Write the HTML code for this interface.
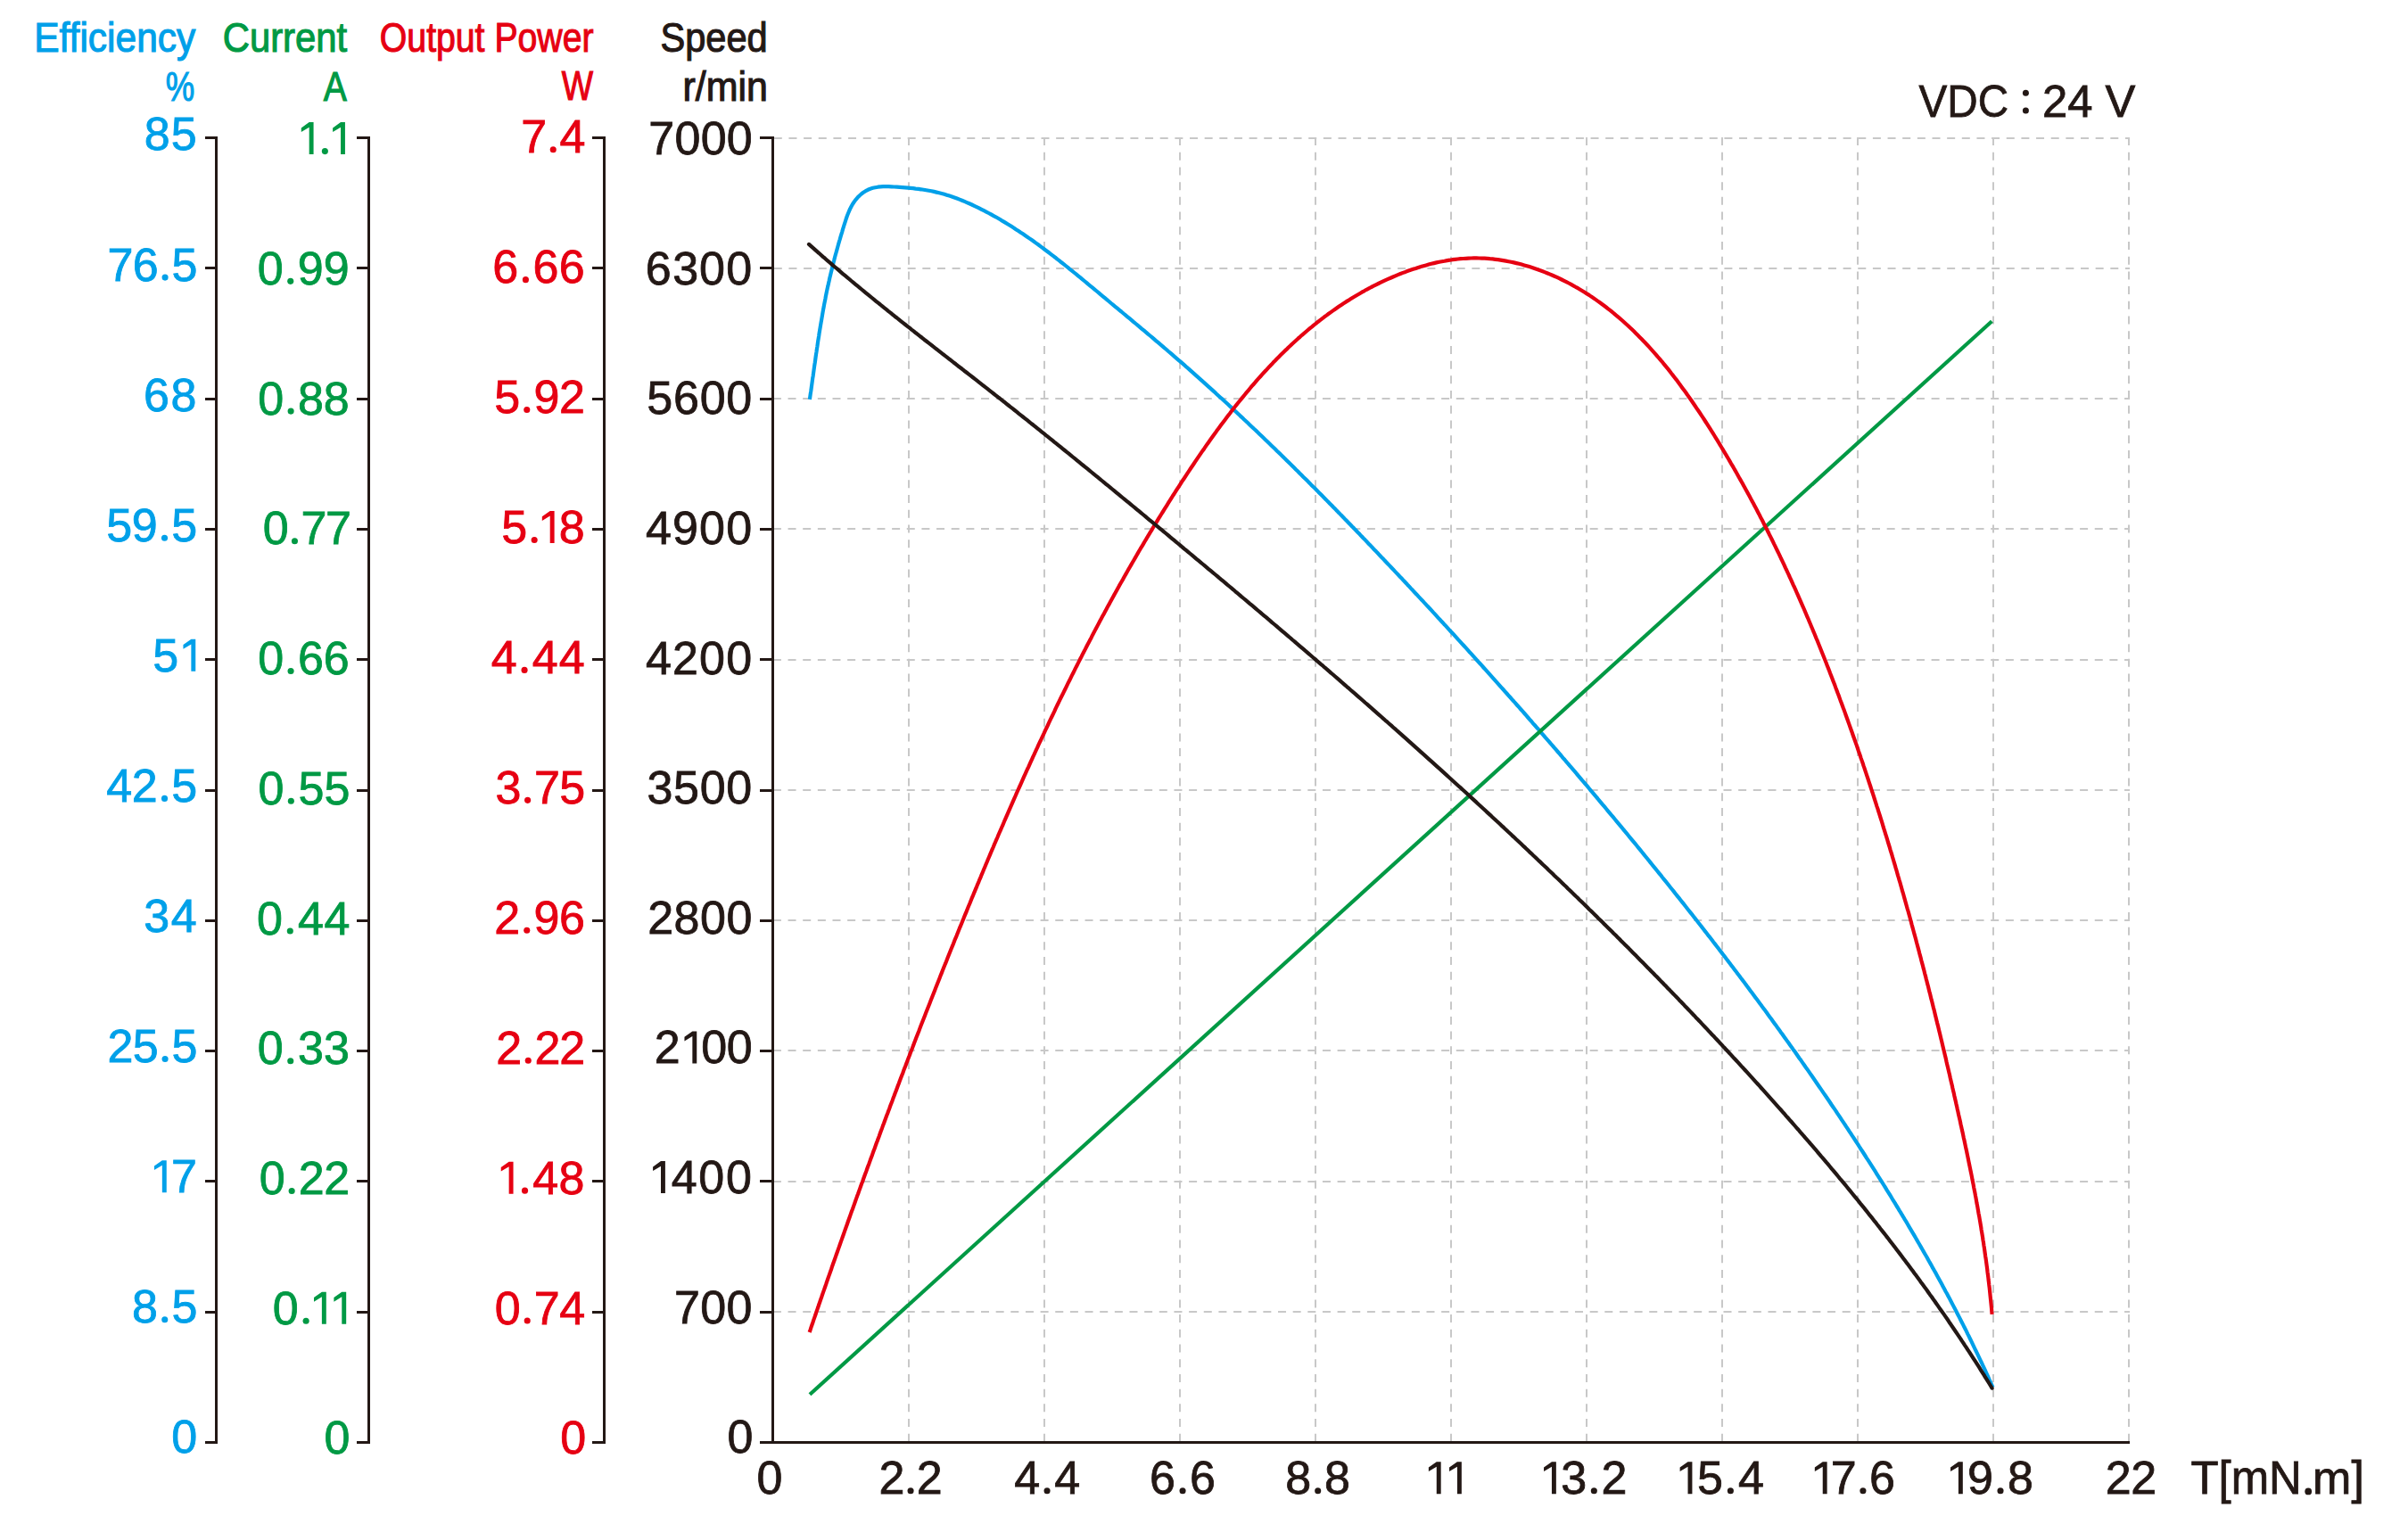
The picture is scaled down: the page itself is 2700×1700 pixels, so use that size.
<!DOCTYPE html>
<html><head><meta charset="utf-8"><style>
html,body{margin:0;padding:0;background:#fff;width:2700px;height:1700px;overflow:hidden}
svg{display:block}
text{font-family:"Liberation Sans",sans-serif}
</style></head><body>
<svg width="2700" height="1700" viewBox="0 0 2700 1700">
<rect width="2700" height="1700" fill="#fff"/>
<g stroke="#c8c8c8" stroke-width="2" fill="none"><line x1="867.8" y1="155.00" x2="2388" y2="155.00" stroke-dasharray="9 7.65"/><line x1="867.8" y1="301.00" x2="2388" y2="301.00" stroke-dasharray="9 7.65"/><line x1="866.9" y1="447.00" x2="2388" y2="447.00" stroke-dasharray="9 7.65"/><line x1="866.9" y1="593.00" x2="2388" y2="593.00" stroke-dasharray="9 7.65"/><line x1="866.9" y1="740.00" x2="2388" y2="740.00" stroke-dasharray="9 7.65"/><line x1="866.9" y1="886.00" x2="2388" y2="886.00" stroke-dasharray="9 7.65"/><line x1="866.9" y1="1032.00" x2="2388" y2="1032.00" stroke-dasharray="9 7.65"/><line x1="866.9" y1="1178.00" x2="2388" y2="1178.00" stroke-dasharray="9 7.65"/><line x1="866.9" y1="1325.00" x2="2388" y2="1325.00" stroke-dasharray="9 7.65"/><line x1="866.9" y1="1471.00" x2="2388" y2="1471.00" stroke-dasharray="9 7.65"/><line x1="1019.00" y1="154.0" x2="1019.00" y2="1616" stroke-dasharray="9 7.71"/><line x1="1171.00" y1="154.0" x2="1171.00" y2="1616" stroke-dasharray="9 7.71"/><line x1="1323.00" y1="154.0" x2="1323.00" y2="1616" stroke-dasharray="9 7.71"/><line x1="1475.00" y1="154.0" x2="1475.00" y2="1616" stroke-dasharray="9 7.71"/><line x1="1627.00" y1="154.0" x2="1627.00" y2="1616" stroke-dasharray="9 7.71"/><line x1="1779.00" y1="154.0" x2="1779.00" y2="1616" stroke-dasharray="9 7.71"/><line x1="1931.00" y1="154.0" x2="1931.00" y2="1616" stroke-dasharray="9 7.71"/><line x1="2083.00" y1="154.0" x2="2083.00" y2="1616" stroke-dasharray="9 7.71"/><line x1="2235.00" y1="154.0" x2="2235.00" y2="1616" stroke-dasharray="9 7.71"/><line x1="2387.00" y1="154.0" x2="2387.00" y2="1616" stroke-dasharray="9 7.71"/></g>
<g stroke="#231815" stroke-width="3" fill="none"><line x1="242.5" y1="153.0" x2="242.5" y2="1619.0"/><line x1="230.0" y1="154.50" x2="244.0" y2="154.50"/><line x1="230.0" y1="300.50" x2="244.0" y2="300.50"/><line x1="230.0" y1="447.50" x2="244.0" y2="447.50"/><line x1="230.0" y1="593.50" x2="244.0" y2="593.50"/><line x1="230.0" y1="739.50" x2="244.0" y2="739.50"/><line x1="230.0" y1="886.50" x2="244.0" y2="886.50"/><line x1="230.0" y1="1032.50" x2="244.0" y2="1032.50"/><line x1="230.0" y1="1178.50" x2="244.0" y2="1178.50"/><line x1="230.0" y1="1324.50" x2="244.0" y2="1324.50"/><line x1="230.0" y1="1471.50" x2="244.0" y2="1471.50"/><line x1="230.0" y1="1617.50" x2="244.0" y2="1617.50"/><line x1="413.5" y1="153.0" x2="413.5" y2="1619.0"/><line x1="400.0" y1="154.50" x2="415.0" y2="154.50"/><line x1="400.0" y1="300.50" x2="415.0" y2="300.50"/><line x1="400.0" y1="447.50" x2="415.0" y2="447.50"/><line x1="400.0" y1="593.50" x2="415.0" y2="593.50"/><line x1="400.0" y1="739.50" x2="415.0" y2="739.50"/><line x1="400.0" y1="886.50" x2="415.0" y2="886.50"/><line x1="400.0" y1="1032.50" x2="415.0" y2="1032.50"/><line x1="400.0" y1="1178.50" x2="415.0" y2="1178.50"/><line x1="400.0" y1="1324.50" x2="415.0" y2="1324.50"/><line x1="400.0" y1="1471.50" x2="415.0" y2="1471.50"/><line x1="400.0" y1="1617.50" x2="415.0" y2="1617.50"/><line x1="677.5" y1="153.0" x2="677.5" y2="1619.0"/><line x1="664.0" y1="154.50" x2="679.0" y2="154.50"/><line x1="664.0" y1="300.50" x2="679.0" y2="300.50"/><line x1="664.0" y1="447.50" x2="679.0" y2="447.50"/><line x1="664.0" y1="593.50" x2="679.0" y2="593.50"/><line x1="664.0" y1="739.50" x2="679.0" y2="739.50"/><line x1="664.0" y1="886.50" x2="679.0" y2="886.50"/><line x1="664.0" y1="1032.50" x2="679.0" y2="1032.50"/><line x1="664.0" y1="1178.50" x2="679.0" y2="1178.50"/><line x1="664.0" y1="1324.50" x2="679.0" y2="1324.50"/><line x1="664.0" y1="1471.50" x2="679.0" y2="1471.50"/><line x1="664.0" y1="1617.50" x2="679.0" y2="1617.50"/><line x1="866.5" y1="153.0" x2="866.5" y2="1619.0"/><line x1="852.0" y1="154.50" x2="868.0" y2="154.50"/><line x1="852.0" y1="300.50" x2="868.0" y2="300.50"/><line x1="852.0" y1="447.50" x2="868.0" y2="447.50"/><line x1="852.0" y1="593.50" x2="868.0" y2="593.50"/><line x1="852.0" y1="739.50" x2="868.0" y2="739.50"/><line x1="852.0" y1="886.50" x2="868.0" y2="886.50"/><line x1="852.0" y1="1032.50" x2="868.0" y2="1032.50"/><line x1="852.0" y1="1178.50" x2="868.0" y2="1178.50"/><line x1="852.0" y1="1324.50" x2="868.0" y2="1324.50"/><line x1="852.0" y1="1471.50" x2="868.0" y2="1471.50"/><line x1="852.0" y1="1617.50" x2="868.0" y2="1617.50"/><line x1="866.5" y1="1617.5" x2="2388" y2="1617.5"/></g>
<path d="M907.9,447.9 908.3,445.0 908.7,442.0 909.2,439.0 909.6,436.1 910.0,433.1 910.4,430.2 910.8,427.2 911.2,424.2 911.7,421.3 912.1,418.3 912.5,415.3 912.9,412.3 913.3,409.4 913.8,406.4 914.2,403.4 914.6,400.4 915.0,397.5 915.5,394.5 915.9,391.5 916.4,388.5 916.8,385.5 917.2,382.6 917.7,379.6 918.2,376.6 918.6,373.6 919.1,370.7 919.6,367.7 920.1,364.7 920.6,361.7 921.1,358.8 921.6,355.8 922.1,352.9 922.6,349.9 923.1,347.0 923.7,344.0 924.2,341.1 924.8,338.1 925.4,335.2 925.9,332.2 926.5,329.3 927.1,326.4 927.7,323.5 928.4,320.6 929.0,317.7 929.7,314.7 930.3,311.8 931.0,309.0 931.7,306.1 932.4,303.2 933.1,300.3 933.8,297.4 934.5,294.5 935.3,291.6 936.0,288.7 936.8,285.8 937.6,283.0 938.4,280.1 939.2,277.2 940.0,274.3 940.8,271.4 941.7,268.5 942.5,265.6 943.4,262.7 944.3,259.8 945.1,256.9 946.0,254.0 946.9,251.1 947.9,248.1 948.8,245.2 949.8,242.3 950.9,239.5 952.1,236.7 953.3,233.9 954.7,231.3 956.1,228.7 957.8,226.2 959.6,223.8 961.5,221.6 963.6,219.5 965.8,217.5 968.1,215.8 970.6,214.2 973.2,212.8 975.8,211.7 978.6,210.8 981.4,210.2 984.3,209.7 987.3,209.4 990.3,209.2 993.3,209.2 996.4,209.2 999.5,209.3 1002.6,209.5 1005.6,209.7 1008.7,209.9 1011.7,210.1 1014.8,210.3 1017.8,210.6 1020.8,210.9 1023.8,211.2 1026.7,211.6 1029.7,211.9 1032.6,212.3 1035.6,212.8 1038.5,213.3 1041.4,213.8 1044.4,214.3 1047.3,214.9 1050.1,215.6 1053.0,216.3 1055.9,217.0 1058.8,217.8 1061.6,218.7 1064.5,219.6 1067.3,220.5 1070.1,221.5 1073.0,222.5 1075.8,223.6 1078.6,224.7 1081.4,225.9 1084.1,227.1 1086.9,228.3 1089.7,229.5 1092.4,230.8 1095.1,232.1 1097.8,233.4 1100.5,234.8 1103.2,236.2 1105.9,237.6 1108.6,239.0 1111.2,240.4 1113.8,241.9 1116.5,243.3 1119.1,244.8 1121.7,246.3 1124.2,247.9 1126.8,249.4 1129.4,251.0 1131.9,252.5 1134.4,254.1 1137.0,255.7 1139.5,257.4 1142.0,259.0 1144.5,260.7 1147.0,262.3 1149.4,264.0 1151.9,265.7 1154.3,267.4 1156.8,269.1 1159.2,270.8 1161.7,272.6 1164.1,274.3 1166.5,276.1 1168.9,277.9 1171.3,279.7 1173.7,281.5 1176.1,283.3 1178.4,285.1 1180.8,286.9 1183.2,288.7 1185.5,290.6 1187.9,292.4 1190.2,294.3 1192.6,296.1 1194.9,298.0 1197.3,299.9 1199.6,301.8 1201.9,303.6 1204.2,305.5 1206.6,307.4 1208.9,309.3 1211.2,311.2 1213.5,313.1 1215.8,315.0 1218.1,316.9 1220.4,318.9 1222.8,320.8 1225.1,322.7 1227.4,324.6 1229.7,326.5 1232.0,328.4 1234.3,330.4 1236.6,332.3 1238.9,334.2 1241.2,336.1 1243.5,338.0 1245.8,340.0 1248.1,341.9 1250.4,343.8 1252.7,345.7 1255.0,347.6 1257.4,349.5 1259.7,351.5 1262.0,353.4 1264.3,355.3 1266.6,357.2 1268.9,359.1 1271.2,361.1 1273.5,363.0 1275.8,364.9 1278.1,366.8 1280.4,368.8 1282.7,370.7 1285.0,372.6 1287.3,374.6 1289.6,376.5 1291.9,378.4 1294.2,380.4 1296.4,382.3 1298.7,384.2 1301.0,386.2 1303.3,388.1 1305.6,390.1 1307.9,392.0 1310.1,394.0 1312.4,395.9 1314.7,397.9 1316.9,399.8 1319.2,401.8 1321.5,403.8 1323.7,405.7 1326.0,407.7 1328.3,409.7 1330.5,411.7 1332.8,413.6 1335.0,415.6 1337.3,417.6 1339.5,419.6 1341.7,421.6 1344.0,423.6 1346.2,425.6 1348.5,427.6 1350.7,429.6 1352.9,431.6 1355.1,433.6 1357.4,435.6 1359.6,437.6 1361.8,439.6 1364.0,441.7 1366.2,443.7 1368.4,445.7 1370.7,447.7 1372.9,449.8 1375.1,451.8 1377.3,453.8 1379.5,455.9 1381.7,457.9 1383.9,459.9 1386.1,462.0 1388.2,464.0 1390.4,466.1 1392.6,468.1 1394.8,470.2 1397.0,472.2 1399.2,474.3 1401.4,476.4 1403.5,478.4 1405.7,480.5 1407.9,482.5 1410.0,484.6 1412.2,486.7 1414.4,488.8 1416.5,490.8 1418.7,492.9 1420.9,495.0 1423.0,497.1 1425.2,499.2 1427.3,501.2 1429.5,503.3 1431.6,505.4 1433.8,507.5 1435.9,509.6 1438.1,511.7 1440.2,513.8 1442.4,515.9 1444.5,518.0 1446.6,520.1 1448.8,522.2 1450.9,524.3 1453.0,526.4 1455.2,528.5 1457.3,530.7 1459.4,532.8 1461.5,534.9 1463.7,537.0 1465.8,539.1 1467.9,541.2 1470.0,543.4 1472.1,545.5 1474.3,547.6 1476.4,549.7 1478.5,551.9 1480.6,554.0 1482.7,556.1 1484.8,558.3 1486.9,560.4 1489.0,562.6 1491.1,564.7 1493.2,566.8 1495.3,569.0 1497.4,571.1 1499.5,573.3 1501.6,575.4 1503.7,577.6 1505.8,579.7 1507.9,581.9 1510.0,584.0 1512.1,586.2 1514.1,588.3 1516.2,590.5 1518.3,592.6 1520.4,594.8 1522.5,597.0 1524.6,599.1 1526.6,601.3 1528.7,603.5 1530.8,605.6 1532.9,607.8 1534.9,610.0 1537.0,612.1 1539.1,614.3 1541.1,616.5 1543.2,618.6 1545.3,620.8 1547.3,623.0 1549.4,625.2 1551.5,627.3 1553.5,629.5 1555.6,631.7 1557.7,633.9 1559.7,636.0 1561.8,638.2 1563.8,640.4 1565.9,642.6 1568.0,644.8 1570.0,647.0 1572.1,649.1 1574.1,651.3 1576.2,653.5 1578.2,655.7 1580.3,657.9 1582.3,660.1 1584.4,662.3 1586.4,664.5 1588.5,666.7 1590.5,668.9 1592.6,671.1 1594.6,673.2 1596.6,675.4 1598.7,677.6 1600.7,679.8 1602.8,682.0 1604.8,684.2 1606.8,686.4 1608.9,688.6 1610.9,690.8 1612.9,693.1 1615.0,695.3 1617.0,697.5 1619.0,699.7 1621.1,701.9 1623.1,704.1 1625.1,706.3 1627.1,708.5 1629.2,710.7 1631.2,712.9 1633.2,715.1 1635.2,717.4 1637.3,719.6 1639.3,721.8 1641.3,724.0 1643.3,726.2 1645.3,728.4 1647.3,730.7 1649.4,732.9 1651.4,735.1 1653.4,737.3 1655.4,739.6 1657.4,741.8 1659.4,744.0 1661.4,746.2 1663.4,748.5 1665.4,750.7 1667.4,752.9 1669.4,755.2 1671.4,757.4 1673.4,759.6 1675.4,761.9 1677.4,764.1 1679.4,766.3 1681.4,768.6 1683.4,770.8 1685.4,773.0 1687.4,775.3 1689.4,777.5 1691.4,779.8 1693.4,782.0 1695.4,784.3 1697.4,786.5 1699.3,788.7 1701.3,791.0 1703.3,793.2 1705.3,795.5 1707.3,797.7 1709.3,800.0 1711.2,802.2 1713.2,804.5 1715.2,806.8 1717.2,809.0 1719.1,811.3 1721.1,813.5 1723.1,815.8 1725.1,818.0 1727.0,820.3 1729.0,822.6 1731.0,824.8 1732.9,827.1 1734.9,829.3 1736.9,831.6 1738.8,833.9 1740.8,836.1 1742.7,838.4 1744.7,840.7 1746.7,843.0 1748.6,845.2 1750.6,847.5 1752.5,849.8 1754.5,852.0 1756.4,854.3 1758.4,856.6 1760.3,858.9 1762.3,861.2 1764.2,863.4 1766.2,865.7 1768.1,868.0 1770.1,870.3 1772.0,872.6 1773.9,874.9 1775.9,877.1 1777.8,879.4 1779.8,881.7 1781.7,884.0 1783.6,886.3 1785.6,888.6 1787.5,890.9 1789.4,893.2 1791.4,895.5 1793.3,897.8 1795.2,900.1 1797.1,902.4 1799.1,904.7 1801.0,907.0 1802.9,909.3 1804.8,911.6 1806.7,913.9 1808.7,916.2 1810.6,918.5 1812.5,920.8 1814.4,923.1 1816.3,925.4 1818.2,927.7 1820.1,930.0 1822.1,932.3 1824.0,934.6 1825.9,937.0 1827.8,939.3 1829.7,941.6 1831.6,943.9 1833.5,946.2 1835.4,948.5 1837.3,950.9 1839.2,953.2 1841.1,955.5 1843.0,957.8 1844.9,960.2 1846.8,962.5 1848.7,964.8 1850.5,967.1 1852.4,969.5 1854.3,971.8 1856.2,974.1 1858.1,976.5 1860.0,978.8 1861.9,981.1 1863.7,983.5 1865.6,985.8 1867.5,988.1 1869.4,990.5 1871.2,992.8 1873.1,995.2 1875.0,997.5 1876.9,999.9 1878.7,1002.2 1880.6,1004.6 1882.5,1006.9 1884.3,1009.2 1886.2,1011.6 1888.1,1013.9 1889.9,1016.3 1891.8,1018.7 1893.6,1021.0 1895.5,1023.4 1897.4,1025.7 1899.2,1028.1 1901.1,1030.4 1902.9,1032.8 1904.8,1035.2 1906.6,1037.5 1908.5,1039.9 1910.3,1042.3 1912.1,1044.6 1914.0,1047.0 1915.8,1049.4 1917.7,1051.7 1919.5,1054.1 1921.3,1056.5 1923.2,1058.9 1925.0,1061.2 1926.8,1063.6 1928.6,1066.0 1930.5,1068.4 1932.3,1070.7 1934.1,1073.1 1935.9,1075.5 1937.8,1077.9 1939.6,1080.3 1941.4,1082.7 1943.2,1085.1 1945.0,1087.5 1946.8,1089.8 1948.6,1092.2 1950.4,1094.6 1952.2,1097.0 1954.1,1099.4 1955.9,1101.8 1957.7,1104.2 1959.4,1106.6 1961.2,1109.0 1963.0,1111.4 1964.8,1113.8 1966.6,1116.2 1968.4,1118.7 1970.2,1121.1 1972.0,1123.5 1973.8,1125.9 1975.5,1128.3 1977.3,1130.7 1979.1,1133.1 1980.9,1135.6 1982.6,1138.0 1984.4,1140.4 1986.2,1142.8 1987.9,1145.2 1989.7,1147.7 1991.5,1150.1 1993.2,1152.5 1995.0,1154.9 1996.7,1157.4 1998.5,1159.8 2000.2,1162.2 2002.0,1164.7 2003.7,1167.1 2005.5,1169.6 2007.2,1172.0 2009.0,1174.4 2010.7,1176.9 2012.5,1179.3 2014.2,1181.8 2015.9,1184.2 2017.6,1186.7 2019.4,1189.1 2021.1,1191.6 2022.8,1194.0 2024.5,1196.5 2026.3,1198.9 2028.0,1201.4 2029.7,1203.9 2031.4,1206.3 2033.1,1208.8 2034.8,1211.2 2036.5,1213.7 2038.2,1216.2 2039.9,1218.7 2041.6,1221.1 2043.3,1223.6 2045.0,1226.1 2046.7,1228.5 2048.4,1231.0 2050.1,1233.5 2051.8,1236.0 2053.4,1238.5 2055.1,1241.0 2056.8,1243.4 2058.5,1245.9 2060.1,1248.4 2061.8,1250.9 2063.5,1253.4 2065.1,1255.9 2066.8,1258.4 2068.5,1260.9 2070.1,1263.4 2071.8,1265.9 2073.4,1268.4 2075.1,1270.9 2076.7,1273.4 2078.4,1275.9 2080.0,1278.4 2081.6,1280.9 2083.3,1283.4 2084.9,1286.0 2086.5,1288.5 2088.2,1291.0 2089.8,1293.5 2091.4,1296.0 2093.0,1298.6 2094.7,1301.1 2096.3,1303.6 2097.9,1306.1 2099.5,1308.7 2101.1,1311.2 2102.7,1313.7 2104.3,1316.3 2105.9,1318.8 2107.5,1321.3 2109.1,1323.9 2110.7,1326.4 2112.3,1329.0 2113.9,1331.5 2115.4,1334.1 2117.0,1336.6 2118.6,1339.2 2120.2,1341.7 2121.7,1344.3 2123.3,1346.8 2124.9,1349.4 2126.4,1352.0 2128.0,1354.5 2129.5,1357.1 2131.1,1359.6 2132.6,1362.2 2134.2,1364.8 2135.7,1367.4 2137.3,1369.9 2138.8,1372.5 2140.3,1375.1 2141.8,1377.7 2143.4,1380.3 2144.9,1382.8 2146.4,1385.4 2147.9,1388.0 2149.4,1390.6 2150.9,1393.2 2152.4,1395.8 2153.9,1398.4 2155.4,1401.0 2156.9,1403.6 2158.4,1406.2 2159.9,1408.8 2161.4,1411.4 2162.8,1414.0 2164.3,1416.6 2165.8,1419.3 2167.2,1421.9 2168.7,1424.5 2170.2,1427.1 2171.6,1429.7 2173.1,1432.4 2174.5,1435.0 2175.9,1437.6 2177.4,1440.3 2178.8,1442.9 2180.2,1445.5 2181.6,1448.2 2183.1,1450.8 2184.5,1453.5 2185.9,1456.1 2187.3,1458.8 2188.7,1461.4 2190.1,1464.1 2191.5,1466.7 2192.9,1469.4 2194.2,1472.0 2195.6,1474.7 2197.0,1477.4 2198.3,1480.0 2199.7,1482.7 2201.1,1485.4 2202.4,1488.1 2203.8,1490.7 2205.1,1493.4 2206.4,1496.1 2207.8,1498.8 2209.1,1501.5 2210.4,1504.2 2211.7,1506.9 2213.0,1509.6 2214.3,1512.3 2215.6,1515.0 2216.9,1517.7 2218.2,1520.4 2219.5,1523.1 2220.8,1525.8 2222.1,1528.5 2223.3,1531.2 2224.6,1533.9 2225.9,1536.7 2227.1,1539.4 2228.4,1542.1 2229.6,1544.8 2230.8,1547.6 2232.1,1550.3 2233.3,1553.1 2234.5,1555.8" stroke="#00a0e9" stroke-width="4.2" fill="none" stroke-linejoin="round"/><path d="M908.0,1563.8 2233.4,360.2" stroke="#009944" stroke-width="4.2" fill="none" stroke-linejoin="round"/><path d="M907.6,1494.0 908.6,1491.2 909.5,1488.4 910.5,1485.5 911.5,1482.7 912.4,1479.9 913.4,1477.1 914.4,1474.3 915.3,1471.4 916.3,1468.6 917.3,1465.8 918.2,1463.0 919.2,1460.2 920.2,1457.3 921.2,1454.5 922.1,1451.7 923.1,1448.9 924.1,1446.1 925.1,1443.2 926.1,1440.4 927.0,1437.6 928.0,1434.8 929.0,1431.9 930.0,1429.1 931.0,1426.3 932.0,1423.5 932.9,1420.7 933.9,1417.8 934.9,1415.0 935.9,1412.2 936.9,1409.4 937.9,1406.5 938.9,1403.7 939.9,1400.9 940.9,1398.1 941.9,1395.2 942.9,1392.4 943.9,1389.6 944.9,1386.8 945.9,1384.0 946.9,1381.1 947.9,1378.3 948.9,1375.5 949.9,1372.7 950.9,1369.8 951.9,1367.0 952.9,1364.2 953.9,1361.4 954.9,1358.5 956.0,1355.7 957.0,1352.9 958.0,1350.1 959.0,1347.2 960.0,1344.4 961.0,1341.6 962.1,1338.8 963.1,1335.9 964.1,1333.1 965.1,1330.3 966.1,1327.5 967.2,1324.7 968.2,1321.8 969.2,1319.0 970.2,1316.2 971.3,1313.4 972.3,1310.5 973.3,1307.7 974.4,1304.9 975.4,1302.1 976.4,1299.3 977.5,1296.4 978.5,1293.6 979.5,1290.8 980.6,1288.0 981.6,1285.1 982.6,1282.3 983.7,1279.5 984.7,1276.7 985.8,1273.9 986.8,1271.0 987.8,1268.2 988.9,1265.4 989.9,1262.6 991.0,1259.8 992.0,1257.0 993.1,1254.1 994.1,1251.3 995.2,1248.5 996.2,1245.7 997.3,1242.9 998.3,1240.0 999.4,1237.2 1000.5,1234.4 1001.5,1231.6 1002.6,1228.8 1003.6,1226.0 1004.7,1223.2 1005.8,1220.3 1006.8,1217.5 1007.9,1214.7 1008.9,1211.9 1010.0,1209.1 1011.1,1206.3 1012.2,1203.5 1013.2,1200.6 1014.3,1197.8 1015.4,1195.0 1016.4,1192.2 1017.5,1189.4 1018.6,1186.6 1019.7,1183.8 1020.7,1181.0 1021.8,1178.2 1022.9,1175.4 1024.0,1172.6 1025.0,1169.7 1026.1,1166.9 1027.2,1164.1 1028.3,1161.3 1029.4,1158.5 1030.5,1155.7 1031.5,1152.9 1032.6,1150.1 1033.7,1147.3 1034.8,1144.5 1035.9,1141.7 1037.0,1138.9 1038.1,1136.1 1039.2,1133.3 1040.3,1130.5 1041.4,1127.7 1042.5,1124.9 1043.6,1122.1 1044.7,1119.3 1045.8,1116.5 1046.9,1113.7 1048.0,1110.9 1049.1,1108.1 1050.2,1105.3 1051.3,1102.5 1052.4,1099.7 1053.5,1096.9 1054.6,1094.1 1055.7,1091.4 1056.8,1088.6 1057.9,1085.8 1059.0,1083.0 1060.2,1080.2 1061.3,1077.4 1062.4,1074.6 1063.5,1071.8 1064.6,1069.0 1065.7,1066.3 1066.8,1063.5 1068.0,1060.7 1069.1,1057.9 1070.2,1055.1 1071.3,1052.3 1072.5,1049.6 1073.6,1046.8 1074.7,1044.0 1075.8,1041.2 1077.0,1038.4 1078.1,1035.7 1079.2,1032.9 1080.4,1030.1 1081.5,1027.3 1082.6,1024.6 1083.8,1021.8 1084.9,1019.0 1086.0,1016.3 1087.2,1013.5 1088.3,1010.7 1089.4,1007.9 1090.6,1005.2 1091.7,1002.4 1092.9,999.6 1094.0,996.9 1095.2,994.1 1096.3,991.3 1097.5,988.6 1098.6,985.8 1099.8,983.1 1100.9,980.3 1102.1,977.5 1103.2,974.8 1104.4,972.0 1105.5,969.3 1106.7,966.5 1107.8,963.8 1109.0,961.0 1110.2,958.2 1111.3,955.5 1112.5,952.7 1113.7,950.0 1114.8,947.2 1116.0,944.5 1117.2,941.7 1118.4,939.0 1119.5,936.3 1120.7,933.5 1121.9,930.8 1123.1,928.0 1124.3,925.3 1125.5,922.5 1126.6,919.8 1127.8,917.1 1129.0,914.3 1130.2,911.6 1131.4,908.8 1132.6,906.1 1133.8,903.4 1135.0,900.6 1136.2,897.9 1137.4,895.2 1138.6,892.5 1139.8,889.7 1141.0,887.0 1142.2,884.3 1143.5,881.5 1144.7,878.8 1145.9,876.1 1147.1,873.4 1148.3,870.7 1149.6,867.9 1150.8,865.2 1152.0,862.5 1153.3,859.8 1154.5,857.1 1155.7,854.4 1157.0,851.6 1158.2,848.9 1159.5,846.2 1160.7,843.5 1161.9,840.8 1163.2,838.1 1164.4,835.4 1165.7,832.7 1167.0,830.0 1168.2,827.3 1169.5,824.6 1170.8,821.9 1172.0,819.2 1173.3,816.5 1174.6,813.8 1175.8,811.1 1177.1,808.4 1178.4,805.7 1179.7,803.0 1181.0,800.3 1182.3,797.6 1183.5,794.9 1184.8,792.2 1186.1,789.5 1187.4,786.9 1188.7,784.2 1190.0,781.5 1191.4,778.8 1192.7,776.1 1194.0,773.5 1195.3,770.8 1196.6,768.1 1197.9,765.4 1199.3,762.8 1200.6,760.1 1201.9,757.4 1203.3,754.7 1204.6,752.1 1205.9,749.4 1207.3,746.7 1208.6,744.1 1210.0,741.4 1211.3,738.8 1212.7,736.1 1214.0,733.4 1215.4,730.8 1216.8,728.1 1218.1,725.5 1219.5,722.8 1220.9,720.2 1222.3,717.5 1223.7,714.9 1225.0,712.2 1226.4,709.6 1227.8,706.9 1229.2,704.3 1230.6,701.6 1232.0,699.0 1233.4,696.3 1234.8,693.7 1236.2,691.1 1237.7,688.4 1239.1,685.8 1240.5,683.2 1241.9,680.5 1243.4,677.9 1244.8,675.3 1246.2,672.7 1247.7,670.0 1249.1,667.4 1250.6,664.8 1252.0,662.2 1253.5,659.5 1254.9,656.9 1256.4,654.3 1257.9,651.7 1259.4,649.1 1260.8,646.5 1262.3,643.9 1263.8,641.3 1265.3,638.6 1266.8,636.0 1268.3,633.4 1269.8,630.8 1271.3,628.2 1272.8,625.6 1274.3,623.0 1275.8,620.4 1277.3,617.8 1278.8,615.2 1280.4,612.7 1281.9,610.1 1283.4,607.5 1285.0,604.9 1286.5,602.3 1288.1,599.7 1289.6,597.1 1291.2,594.6 1292.7,592.0 1294.3,589.4 1295.9,586.8 1297.4,584.3 1299.0,581.7 1300.6,579.1 1302.2,576.5 1303.8,574.0 1305.4,571.4 1307.0,568.8 1308.6,566.3 1310.2,563.7 1311.8,561.2 1313.4,558.6 1315.0,556.0 1316.7,553.5 1318.3,550.9 1319.9,548.4 1321.6,545.8 1323.2,543.3 1324.9,540.7 1326.5,538.2 1328.2,535.7 1329.9,533.1 1331.5,530.6 1333.2,528.1 1334.9,525.5 1336.6,523.0 1338.3,520.5 1340.0,517.9 1341.7,515.4 1343.4,512.9 1345.1,510.4 1346.8,507.9 1348.5,505.4 1350.3,502.9 1352.0,500.4 1353.7,497.9 1355.5,495.4 1357.2,493.0 1359.0,490.5 1360.8,488.0 1362.6,485.6 1364.3,483.1 1366.1,480.7 1367.9,478.2 1369.7,475.8 1371.5,473.4 1373.4,470.9 1375.2,468.5 1377.0,466.1 1378.9,463.7 1380.7,461.3 1382.6,458.9 1384.4,456.5 1386.3,454.2 1388.2,451.8 1390.1,449.5 1392.0,447.1 1393.9,444.8 1395.8,442.5 1397.7,440.1 1399.7,437.8 1401.6,435.5 1403.5,433.2 1405.5,431.0 1407.5,428.7 1409.4,426.4 1411.4,424.2 1413.4,422.0 1415.4,419.7 1417.4,417.5 1419.5,415.3 1421.5,413.1 1423.5,410.9 1425.6,408.8 1427.6,406.6 1429.7,404.5 1431.8,402.3 1433.9,400.2 1436.0,398.1 1438.1,396.0 1440.2,393.9 1442.4,391.9 1444.5,389.8 1446.7,387.8 1448.8,385.7 1451.0,383.7 1453.2,381.7 1455.4,379.7 1457.6,377.8 1459.8,375.8 1462.1,373.9 1464.3,372.0 1466.6,370.0 1468.8,368.1 1471.1,366.3 1473.4,364.4 1475.7,362.6 1478.0,360.7 1480.4,358.9 1482.7,357.1 1485.0,355.3 1487.4,353.6 1489.8,351.8 1492.2,350.1 1494.6,348.4 1497.0,346.7 1499.4,345.0 1501.9,343.3 1504.3,341.7 1506.8,340.1 1509.3,338.4 1511.8,336.9 1514.3,335.3 1516.8,333.7 1519.3,332.2 1521.9,330.7 1524.5,329.2 1527.0,327.7 1529.6,326.3 1532.2,324.8 1534.9,323.4 1537.5,322.0 1540.1,320.7 1542.8,319.3 1545.5,318.0 1548.2,316.7 1550.9,315.4 1553.6,314.1 1556.3,312.9 1559.1,311.7 1561.9,310.5 1564.6,309.3 1567.4,308.1 1570.2,307.0 1573.1,305.9 1575.9,304.9 1578.7,303.8 1581.6,302.8 1584.5,301.8 1587.4,300.9 1590.2,299.9 1593.1,299.1 1596.1,298.2 1599.0,297.4 1601.9,296.6 1604.8,295.8 1607.8,295.1 1610.7,294.4 1613.7,293.8 1616.6,293.2 1619.6,292.7 1622.6,292.1 1625.6,291.7 1628.5,291.2 1631.5,290.8 1634.5,290.5 1637.5,290.2 1640.5,290.0 1643.5,289.8 1646.5,289.6 1649.5,289.5 1652.5,289.4 1655.5,289.4 1658.5,289.5 1661.6,289.6 1664.6,289.7 1667.6,289.9 1670.6,290.2 1673.6,290.4 1676.6,290.8 1679.6,291.2 1682.5,291.6 1685.5,292.1 1688.5,292.6 1691.5,293.2 1694.4,293.8 1697.4,294.4 1700.3,295.1 1703.3,295.8 1706.2,296.6 1709.1,297.4 1712.0,298.2 1714.9,299.1 1717.8,300.0 1720.6,301.0 1723.5,302.0 1726.3,303.0 1729.1,304.0 1731.9,305.1 1734.7,306.2 1737.5,307.4 1740.2,308.5 1743.0,309.7 1745.7,310.9 1748.4,312.2 1751.0,313.5 1753.7,314.8 1756.3,316.1 1759.0,317.5 1761.6,318.9 1764.1,320.3 1766.7,321.8 1769.3,323.2 1771.8,324.7 1774.3,326.2 1776.8,327.8 1779.3,329.4 1781.8,330.9 1784.2,332.6 1786.7,334.2 1789.1,335.9 1791.5,337.6 1793.9,339.3 1796.2,341.0 1798.6,342.8 1800.9,344.5 1803.2,346.3 1805.6,348.2 1807.9,350.0 1810.1,351.9 1812.4,353.8 1814.6,355.7 1816.9,357.6 1819.1,359.5 1821.3,361.5 1823.5,363.5 1825.7,365.5 1827.8,367.5 1830.0,369.6 1832.1,371.6 1834.2,373.7 1836.3,375.8 1838.4,377.9 1840.5,380.0 1842.6,382.2 1844.6,384.3 1846.7,386.5 1848.7,388.7 1850.7,390.9 1852.7,393.1 1854.7,395.3 1856.7,397.6 1858.6,399.9 1860.6,402.1 1862.5,404.4 1864.5,406.7 1866.4,409.1 1868.3,411.4 1870.2,413.7 1872.1,416.1 1873.9,418.5 1875.8,420.9 1877.6,423.2 1879.5,425.6 1881.3,428.1 1883.1,430.5 1884.9,432.9 1886.7,435.4 1888.5,437.8 1890.3,440.3 1892.0,442.8 1893.8,445.2 1895.6,447.7 1897.3,450.2 1899.0,452.7 1900.7,455.2 1902.4,457.8 1904.1,460.3 1905.8,462.8 1907.5,465.4 1909.2,467.9 1910.9,470.5 1912.5,473.0 1914.2,475.6 1915.8,478.2 1917.4,480.7 1919.1,483.3 1920.7,485.9 1922.3,488.5 1923.9,491.1 1925.5,493.7 1927.1,496.3 1928.6,498.9 1930.2,501.5 1931.8,504.1 1933.3,506.7 1934.9,509.3 1936.4,511.9 1938.0,514.5 1939.5,517.1 1941.0,519.8 1942.6,522.4 1944.1,525.0 1945.6,527.6 1947.1,530.2 1948.6,532.9 1950.0,535.5 1951.5,538.1 1953.0,540.8 1954.5,543.4 1955.9,546.0 1957.4,548.7 1958.8,551.3 1960.3,554.0 1961.7,556.6 1963.1,559.2 1964.5,561.9 1966.0,564.5 1967.4,567.2 1968.8,569.8 1970.2,572.5 1971.6,575.2 1973.0,577.8 1974.3,580.5 1975.7,583.1 1977.1,585.8 1978.4,588.5 1979.8,591.2 1981.2,593.8 1982.5,596.5 1983.8,599.2 1985.2,601.9 1986.5,604.5 1987.8,607.2 1989.1,609.9 1990.5,612.6 1991.8,615.3 1993.1,618.0 1994.4,620.6 1995.7,623.3 1996.9,626.0 1998.2,628.7 1999.5,631.4 2000.8,634.1 2002.0,636.8 2003.3,639.5 2004.5,642.2 2005.8,644.9 2007.0,647.7 2008.3,650.4 2009.5,653.1 2010.7,655.8 2012.0,658.5 2013.2,661.2 2014.4,664.0 2015.6,666.7 2016.8,669.4 2018.0,672.1 2019.2,674.9 2020.4,677.6 2021.6,680.3 2022.8,683.0 2024.0,685.8 2025.1,688.5 2026.3,691.3 2027.5,694.0 2028.6,696.7 2029.8,699.5 2030.9,702.2 2032.1,705.0 2033.2,707.7 2034.4,710.5 2035.5,713.2 2036.6,716.0 2037.8,718.7 2038.9,721.5 2040.0,724.2 2041.1,727.0 2042.2,729.8 2043.3,732.5 2044.4,735.3 2045.5,738.1 2046.6,740.8 2047.7,743.6 2048.8,746.4 2049.9,749.1 2051.0,751.9 2052.0,754.7 2053.1,757.5 2054.2,760.3 2055.2,763.0 2056.3,765.8 2057.4,768.6 2058.4,771.4 2059.5,774.2 2060.5,777.0 2061.6,779.8 2062.6,782.6 2063.6,785.4 2064.7,788.2 2065.7,791.0 2066.7,793.8 2067.8,796.6 2068.8,799.4 2069.8,802.2 2070.8,805.0 2071.8,807.8 2072.8,810.6 2073.8,813.4 2074.8,816.2 2075.8,819.0 2076.8,821.8 2077.8,824.7 2078.8,827.5 2079.8,830.3 2080.8,833.1 2081.8,835.9 2082.8,838.8 2083.7,841.6 2084.7,844.4 2085.7,847.2 2086.6,850.1 2087.6,852.9 2088.6,855.7 2089.5,858.6 2090.5,861.4 2091.4,864.2 2092.4,867.1 2093.3,869.9 2094.3,872.8 2095.2,875.6 2096.1,878.4 2097.1,881.3 2098.0,884.1 2098.9,887.0 2099.9,889.8 2100.8,892.7 2101.7,895.5 2102.6,898.4 2103.5,901.2 2104.4,904.1 2105.4,906.9 2106.3,909.8 2107.2,912.7 2108.1,915.5 2109.0,918.4 2109.9,921.2 2110.8,924.1 2111.6,927.0 2112.5,929.8 2113.4,932.7 2114.3,935.6 2115.2,938.4 2116.1,941.3 2116.9,944.2 2117.8,947.0 2118.7,949.9 2119.5,952.8 2120.4,955.7 2121.3,958.5 2122.1,961.4 2123.0,964.3 2123.8,967.2 2124.7,970.0 2125.5,972.9 2126.4,975.8 2127.2,978.7 2128.0,981.6 2128.9,984.5 2129.7,987.3 2130.6,990.2 2131.4,993.1 2132.2,996.0 2133.0,998.9 2133.9,1001.8 2134.7,1004.7 2135.5,1007.6 2136.3,1010.5 2137.1,1013.3 2137.9,1016.2 2138.7,1019.1 2139.6,1022.0 2140.4,1024.9 2141.2,1027.8 2142.0,1030.7 2142.8,1033.6 2143.5,1036.5 2144.3,1039.4 2145.1,1042.3 2145.9,1045.2 2146.7,1048.1 2147.5,1051.0 2148.3,1053.9 2149.0,1056.8 2149.8,1059.7 2150.6,1062.6 2151.4,1065.6 2152.1,1068.5 2152.9,1071.4 2153.7,1074.3 2154.4,1077.2 2155.2,1080.1 2156.0,1083.0 2156.7,1085.9 2157.5,1088.8 2158.2,1091.7 2159.0,1094.6 2159.7,1097.6 2160.5,1100.5 2161.2,1103.4 2162.0,1106.3 2162.7,1109.2 2163.4,1112.1 2164.2,1115.0 2164.9,1118.0 2165.6,1120.9 2166.4,1123.8 2167.1,1126.7 2167.8,1129.6 2168.6,1132.5 2169.3,1135.5 2170.0,1138.4 2170.7,1141.3 2171.4,1144.2 2172.1,1147.1 2172.9,1150.1 2173.6,1153.0 2174.3,1155.9 2175.0,1158.8 2175.7,1161.8 2176.4,1164.7 2177.1,1167.6 2177.8,1170.5 2178.5,1173.4 2179.2,1176.4 2179.9,1179.3 2180.6,1182.2 2181.3,1185.1 2182.0,1188.1 2182.6,1191.0 2183.3,1193.9 2184.0,1196.8 2184.7,1199.8 2185.4,1202.7 2186.1,1205.6 2186.7,1208.5 2187.4,1211.5 2188.1,1214.4 2188.8,1217.3 2189.4,1220.2 2190.1,1223.2 2190.8,1226.1 2191.4,1229.0 2192.1,1232.0 2192.8,1234.9 2193.4,1237.8 2194.1,1240.7 2194.7,1243.7 2195.4,1246.6 2196.0,1249.5 2196.7,1252.4 2197.4,1255.4 2198.0,1258.3 2198.6,1261.2 2199.3,1264.2 2199.9,1267.1 2200.6,1270.0 2201.2,1272.9 2201.8,1275.9 2202.5,1278.8 2203.1,1281.7 2203.7,1284.7 2204.3,1287.6 2205.0,1290.5 2205.6,1293.5 2206.2,1296.4 2206.8,1299.3 2207.4,1302.3 2208.0,1305.2 2208.6,1308.1 2209.2,1311.1 2209.8,1314.0 2210.4,1316.9 2211.0,1319.9 2211.5,1322.8 2212.1,1325.7 2212.7,1328.7 2213.2,1331.6 2213.8,1334.6 2214.4,1337.5 2214.9,1340.4 2215.5,1343.4 2216.0,1346.3 2216.5,1349.3 2217.1,1352.2 2217.6,1355.2 2218.1,1358.1 2218.6,1361.1 2219.2,1364.0 2219.7,1367.0 2220.2,1369.9 2220.7,1372.9 2221.2,1375.8 2221.6,1378.8 2222.1,1381.7 2222.6,1384.7 2223.1,1387.6 2223.5,1390.6 2224.0,1393.5 2224.4,1396.5 2224.9,1399.5 2225.3,1402.4 2225.7,1405.4 2226.1,1408.3 2226.6,1411.3 2227.0,1414.3 2227.4,1417.2 2227.8,1420.2 2228.2,1423.2 2228.5,1426.2 2228.9,1429.1 2229.3,1432.1 2229.6,1435.1 2230.0,1438.1 2230.3,1441.0 2230.7,1444.0 2231.0,1447.0 2231.3,1450.0 2231.6,1453.0 2231.9,1456.0 2232.2,1458.9 2232.5,1461.9 2232.8,1464.9 2233.1,1467.9 2233.3,1470.9 2233.6,1473.9" stroke="#e60012" stroke-width="4.2" fill="none" stroke-linejoin="round"/><path d="M907.0,273.9 909.2,275.9 911.5,277.9 913.7,279.9 916.0,281.9 918.2,283.8 920.4,285.8 922.7,287.8 925.0,289.7 927.2,291.7 929.5,293.7 931.8,295.6 934.0,297.6 936.3,299.5 938.6,301.4 940.9,303.4 943.1,305.3 945.4,307.3 947.7,309.2 950.0,311.1 952.3,313.0 954.6,315.0 956.9,316.9 959.2,318.8 961.5,320.7 963.8,322.6 966.1,324.5 968.4,326.4 970.7,328.3 973.0,330.2 975.4,332.1 977.7,334.0 980.0,335.9 982.3,337.8 984.7,339.7 987.0,341.5 989.3,343.4 991.7,345.3 994.0,347.2 996.3,349.1 998.7,350.9 1001.0,352.8 1003.3,354.7 1005.7,356.5 1008.0,358.4 1010.4,360.3 1012.7,362.1 1015.1,364.0 1017.4,365.8 1019.8,367.7 1022.1,369.6 1024.5,371.4 1026.8,373.3 1029.2,375.1 1031.5,377.0 1033.9,378.8 1036.2,380.7 1038.6,382.5 1041.0,384.4 1043.3,386.2 1045.7,388.0 1048.0,389.9 1050.4,391.7 1052.8,393.6 1055.1,395.4 1057.5,397.3 1059.9,399.1 1062.2,400.9 1064.6,402.8 1067.0,404.6 1069.3,406.5 1071.7,408.3 1074.0,410.2 1076.4,412.0 1078.8,413.8 1081.1,415.7 1083.5,417.5 1085.9,419.4 1088.2,421.2 1090.6,423.0 1093.0,424.9 1095.3,426.7 1097.7,428.6 1100.0,430.4 1102.4,432.3 1104.8,434.1 1107.1,435.9 1109.5,437.8 1111.8,439.6 1114.2,441.5 1116.5,443.3 1118.9,445.2 1121.3,447.0 1123.6,448.9 1126.0,450.7 1128.3,452.6 1130.7,454.5 1133.0,456.3 1135.4,458.2 1137.7,460.0 1140.1,461.9 1142.4,463.8 1144.7,465.6 1147.1,467.5 1149.4,469.3 1151.8,471.2 1154.1,473.1 1156.4,475.0 1158.8,476.8 1161.1,478.7 1163.5,480.6 1165.8,482.4 1168.1,484.3 1170.5,486.2 1172.8,488.1 1175.1,489.9 1177.5,491.8 1179.8,493.7 1182.1,495.6 1184.4,497.4 1186.8,499.3 1189.1,501.2 1191.4,503.1 1193.8,505.0 1196.1,506.9 1198.4,508.7 1200.7,510.6 1203.0,512.5 1205.4,514.4 1207.7,516.3 1210.0,518.2 1212.3,520.1 1214.7,522.0 1217.0,523.8 1219.3,525.7 1221.6,527.6 1223.9,529.5 1226.2,531.4 1228.6,533.3 1230.9,535.2 1233.2,537.1 1235.5,539.0 1237.8,540.9 1240.1,542.8 1242.5,544.7 1244.8,546.6 1247.1,548.5 1249.4,550.4 1251.7,552.3 1254.0,554.2 1256.3,556.1 1258.6,558.0 1260.9,559.9 1263.3,561.8 1265.6,563.7 1267.9,565.6 1270.2,567.5 1272.5,569.4 1274.8,571.3 1277.1,573.2 1279.4,575.1 1281.7,577.0 1284.0,578.9 1286.3,580.9 1288.6,582.8 1290.9,584.7 1293.3,586.6 1295.6,588.5 1297.9,590.4 1300.2,592.3 1302.5,594.2 1304.8,596.1 1307.1,598.0 1309.4,599.9 1311.7,601.9 1314.0,603.8 1316.3,605.7 1318.6,607.6 1320.9,609.5 1323.2,611.4 1325.5,613.3 1327.8,615.3 1330.1,617.2 1332.4,619.1 1334.7,621.0 1337.0,622.9 1339.3,624.8 1341.6,626.8 1343.9,628.7 1346.2,630.6 1348.5,632.5 1350.8,634.4 1353.1,636.3 1355.4,638.3 1357.7,640.2 1360.0,642.1 1362.3,644.0 1364.6,645.9 1366.9,647.9 1369.2,649.8 1371.5,651.7 1373.8,653.6 1376.1,655.6 1378.4,657.5 1380.7,659.4 1383.0,661.3 1385.2,663.3 1387.5,665.2 1389.8,667.1 1392.1,669.1 1394.4,671.0 1396.7,672.9 1399.0,674.8 1401.3,676.8 1403.6,678.7 1405.9,680.6 1408.2,682.6 1410.4,684.5 1412.7,686.4 1415.0,688.4 1417.3,690.3 1419.6,692.2 1421.9,694.2 1424.2,696.1 1426.4,698.1 1428.7,700.0 1431.0,701.9 1433.3,703.9 1435.6,705.8 1437.9,707.8 1440.1,709.7 1442.4,711.6 1444.7,713.6 1447.0,715.5 1449.2,717.5 1451.5,719.4 1453.8,721.4 1456.1,723.3 1458.4,725.3 1460.6,727.2 1462.9,729.2 1465.2,731.1 1467.5,733.1 1469.7,735.0 1472.0,737.0 1474.3,738.9 1476.5,740.9 1478.8,742.8 1481.1,744.8 1483.4,746.7 1485.6,748.7 1487.9,750.6 1490.2,752.6 1492.4,754.6 1494.7,756.5 1497.0,758.5 1499.2,760.4 1501.5,762.4 1503.7,764.4 1506.0,766.3 1508.3,768.3 1510.5,770.3 1512.8,772.2 1515.0,774.2 1517.3,776.2 1519.6,778.1 1521.8,780.1 1524.1,782.1 1526.3,784.0 1528.6,786.0 1530.8,788.0 1533.1,789.9 1535.3,791.9 1537.6,793.9 1539.8,795.9 1542.1,797.9 1544.3,799.8 1546.6,801.8 1548.8,803.8 1551.1,805.8 1553.3,807.8 1555.6,809.7 1557.8,811.7 1560.1,813.7 1562.3,815.7 1564.6,817.7 1566.8,819.7 1569.0,821.6 1571.3,823.6 1573.5,825.6 1575.8,827.6 1578.0,829.6 1580.2,831.6 1582.5,833.6 1584.7,835.6 1586.9,837.6 1589.2,839.6 1591.4,841.6 1593.6,843.6 1595.9,845.6 1598.1,847.6 1600.3,849.6 1602.5,851.6 1604.8,853.6 1607.0,855.6 1609.2,857.6 1611.4,859.6 1613.7,861.6 1615.9,863.6 1618.1,865.6 1620.3,867.6 1622.5,869.6 1624.8,871.7 1627.0,873.7 1629.2,875.7 1631.4,877.7 1633.6,879.7 1635.8,881.7 1638.1,883.7 1640.3,885.8 1642.5,887.8 1644.7,889.8 1646.9,891.8 1649.1,893.9 1651.3,895.9 1653.5,897.9 1655.7,899.9 1657.9,902.0 1660.1,904.0 1662.3,906.0 1664.5,908.0 1666.7,910.1 1668.9,912.1 1671.1,914.1 1673.3,916.2 1675.5,918.2 1677.7,920.3 1679.9,922.3 1682.1,924.3 1684.3,926.4 1686.5,928.4 1688.7,930.5 1690.8,932.5 1693.0,934.5 1695.2,936.6 1697.4,938.6 1699.6,940.7 1701.8,942.7 1704.0,944.8 1706.1,946.8 1708.3,948.9 1710.5,950.9 1712.7,953.0 1714.8,955.1 1717.0,957.1 1719.2,959.2 1721.4,961.2 1723.5,963.3 1725.7,965.4 1727.9,967.4 1730.0,969.5 1732.2,971.5 1734.4,973.6 1736.5,975.7 1738.7,977.7 1740.9,979.8 1743.0,981.9 1745.2,984.0 1747.4,986.0 1749.5,988.1 1751.7,990.2 1753.8,992.3 1756.0,994.3 1758.1,996.4 1760.3,998.5 1762.4,1000.6 1764.6,1002.7 1766.7,1004.8 1768.9,1006.8 1771.0,1008.9 1773.2,1011.0 1775.3,1013.1 1777.5,1015.2 1779.6,1017.3 1781.7,1019.4 1783.9,1021.5 1786.0,1023.6 1788.2,1025.7 1790.3,1027.8 1792.4,1029.9 1794.6,1032.0 1796.7,1034.1 1798.8,1036.2 1800.9,1038.3 1803.1,1040.4 1805.2,1042.5 1807.3,1044.6 1809.4,1046.7 1811.6,1048.8 1813.7,1050.9 1815.8,1053.0 1817.9,1055.2 1820.0,1057.3 1822.2,1059.4 1824.3,1061.5 1826.4,1063.6 1828.5,1065.8 1830.6,1067.9 1832.7,1070.0 1834.8,1072.1 1836.9,1074.3 1839.0,1076.4 1841.1,1078.5 1843.2,1080.6 1845.3,1082.8 1847.4,1084.9 1849.5,1087.0 1851.6,1089.2 1853.7,1091.3 1855.8,1093.5 1857.9,1095.6 1860.0,1097.7 1862.1,1099.9 1864.2,1102.0 1866.3,1104.2 1868.4,1106.3 1870.4,1108.5 1872.5,1110.6 1874.6,1112.8 1876.7,1114.9 1878.8,1117.1 1880.9,1119.2 1882.9,1121.4 1885.0,1123.5 1887.1,1125.7 1889.1,1127.9 1891.2,1130.0 1893.3,1132.2 1895.4,1134.4 1897.4,1136.5 1899.5,1138.7 1901.5,1140.9 1903.6,1143.0 1905.7,1145.2 1907.7,1147.4 1909.8,1149.6 1911.8,1151.7 1913.9,1153.9 1915.9,1156.1 1918.0,1158.3 1920.0,1160.5 1922.1,1162.6 1924.1,1164.8 1926.2,1167.0 1928.2,1169.2 1930.3,1171.4 1932.3,1173.6 1934.4,1175.8 1936.4,1178.0 1938.4,1180.2 1940.5,1182.4 1942.5,1184.6 1944.5,1186.8 1946.6,1189.0 1948.6,1191.2 1950.6,1193.4 1952.6,1195.6 1954.7,1197.8 1956.7,1200.0 1958.7,1202.2 1960.7,1204.4 1962.7,1206.6 1964.8,1208.9 1966.8,1211.1 1968.8,1213.3 1970.8,1215.5 1972.8,1217.7 1974.8,1220.0 1976.8,1222.2 1978.8,1224.4 1980.8,1226.6 1982.8,1228.9 1984.8,1231.1 1986.8,1233.3 1988.8,1235.6 1990.8,1237.8 1992.8,1240.1 1994.8,1242.3 1996.8,1244.5 1998.8,1246.8 2000.8,1249.0 2002.7,1251.3 2004.7,1253.5 2006.7,1255.8 2008.7,1258.0 2010.7,1260.3 2012.6,1262.5 2014.6,1264.8 2016.6,1267.0 2018.5,1269.3 2020.5,1271.6 2022.5,1273.8 2024.4,1276.1 2026.4,1278.4 2028.4,1280.6 2030.3,1282.9 2032.3,1285.2 2034.2,1287.4 2036.2,1289.7 2038.1,1292.0 2040.1,1294.3 2042.0,1296.6 2044.0,1298.8 2045.9,1301.1 2047.8,1303.4 2049.8,1305.7 2051.7,1308.0 2053.6,1310.3 2055.6,1312.6 2057.5,1314.9 2059.4,1317.2 2061.3,1319.5 2063.2,1321.8 2065.2,1324.1 2067.1,1326.4 2069.0,1328.7 2070.9,1331.0 2072.8,1333.3 2074.7,1335.6 2076.6,1338.0 2078.5,1340.3 2080.4,1342.6 2082.3,1344.9 2084.2,1347.3 2086.0,1349.6 2087.9,1351.9 2089.8,1354.2 2091.7,1356.6 2093.6,1358.9 2095.4,1361.3 2097.3,1363.6 2099.2,1365.9 2101.0,1368.3 2102.9,1370.6 2104.7,1373.0 2106.6,1375.3 2108.4,1377.7 2110.3,1380.1 2112.1,1382.4 2114.0,1384.8 2115.8,1387.1 2117.7,1389.5 2119.5,1391.9 2121.3,1394.2 2123.1,1396.6 2125.0,1399.0 2126.8,1401.4 2128.6,1403.8 2130.4,1406.1 2132.2,1408.5 2134.0,1410.9 2135.8,1413.3 2137.6,1415.7 2139.4,1418.1 2141.2,1420.5 2143.0,1422.9 2144.8,1425.3 2146.5,1427.7 2148.3,1430.1 2150.1,1432.5 2151.9,1434.9 2153.6,1437.4 2155.4,1439.8 2157.2,1442.2 2158.9,1444.6 2160.7,1447.0 2162.4,1449.5 2164.1,1451.9 2165.9,1454.3 2167.6,1456.8 2169.4,1459.2 2171.1,1461.7 2172.8,1464.1 2174.5,1466.6 2176.2,1469.0 2178.0,1471.5 2179.7,1473.9 2181.4,1476.4 2183.1,1478.8 2184.8,1481.3 2186.4,1483.8 2188.1,1486.2 2189.8,1488.7 2191.5,1491.2 2193.2,1493.7 2194.8,1496.1 2196.5,1498.6 2198.2,1501.1 2199.8,1503.6 2201.5,1506.1 2203.1,1508.6 2204.8,1511.1 2206.4,1513.6 2208.1,1516.1 2209.7,1518.6 2211.3,1521.1 2212.9,1523.6 2214.6,1526.2 2216.2,1528.7 2217.8,1531.2 2219.4,1533.7 2221.0,1536.3 2222.6,1538.8 2224.2,1541.3 2225.7,1543.9 2227.3,1546.4 2228.9,1548.9 2230.5,1551.5 2232.0,1554.0 2233.6,1556.6" stroke="#231815" stroke-width="4.2" fill="none" stroke-linejoin="round" stroke-linecap="round"/>
<text transform="matrix(1.02,0,0,1,161.73,0)" x="0" y="168.50" font-size="51" fill="#00a0e9" stroke="#00a0e9" stroke-width="0.8">8</text><text transform="matrix(1.02,0,0,1,191.77,0)" x="0" y="168.50" font-size="51" fill="#00a0e9" stroke="#00a0e9" stroke-width="0.8">5</text><circle cx="364.37" cy="169.60" r="3.55" fill="#009944"/><path d="M351.57,137.10L351.57,173.10L346.67,173.10L346.67,142.70L337.77,148.00L337.77,143.40L346.67,137.10ZM386.93,137.10L386.93,173.10L382.03,173.10L382.03,142.70L373.13,148.00L373.13,143.40L382.03,137.10Z" fill="#009944"/><text transform="matrix(1.02,0,0,1,584.37,0)" x="0" y="171.20" font-size="51" fill="#e60012" stroke="#e60012" stroke-width="0.8">7</text><circle cx="620.25" cy="167.70" r="3.55" fill="#e60012"/><text transform="matrix(1.02,0,0,1,627.39,0)" x="0" y="171.20" font-size="51" fill="#e60012" stroke="#e60012" stroke-width="0.8">4</text><text transform="matrix(1.02,0,0,1,727.33,0)" x="0" y="173.00" font-size="51" fill="#231815" stroke="#231815" stroke-width="0.8">7</text><text transform="matrix(1.02,0,0,1,756.49,0)" x="0" y="173.00" font-size="51" fill="#231815" stroke="#231815" stroke-width="0.8">0</text><text transform="matrix(1.02,0,0,1,785.64,0)" x="0" y="173.00" font-size="51" fill="#231815" stroke="#231815" stroke-width="0.8">0</text><text transform="matrix(1.02,0,0,1,814.80,0)" x="0" y="173.00" font-size="51" fill="#231815" stroke="#231815" stroke-width="0.8">0</text><text transform="matrix(1.02,0,0,1,120.61,0)" x="0" y="314.58" font-size="51" fill="#00a0e9" stroke="#00a0e9" stroke-width="0.8">7</text><text transform="matrix(1.02,0,0,1,148.66,0)" x="0" y="314.58" font-size="51" fill="#00a0e9" stroke="#00a0e9" stroke-width="0.8">6</text><circle cx="185.09" cy="311.08" r="3.55" fill="#00a0e9"/><text transform="matrix(1.02,0,0,1,192.52,0)" x="0" y="314.58" font-size="51" fill="#00a0e9" stroke="#00a0e9" stroke-width="0.8">5</text><text transform="matrix(1.02,0,0,1,288.78,0)" x="0" y="318.84" font-size="51" fill="#009944" stroke="#009944" stroke-width="0.8">0</text><circle cx="325.74" cy="315.34" r="3.55" fill="#009944"/><text transform="matrix(1.02,0,0,1,333.82,0)" x="0" y="318.84" font-size="51" fill="#009944" stroke="#009944" stroke-width="0.8">9</text><text transform="matrix(1.02,0,0,1,362.85,0)" x="0" y="318.84" font-size="51" fill="#009944" stroke="#009944" stroke-width="0.8">9</text><text transform="matrix(1.02,0,0,1,552.21,0)" x="0" y="317.13" font-size="51" fill="#e60012" stroke="#e60012" stroke-width="0.8">6</text><circle cx="589.41" cy="313.63" r="3.55" fill="#e60012"/><text transform="matrix(1.02,0,0,1,597.48,0)" x="0" y="317.13" font-size="51" fill="#e60012" stroke="#e60012" stroke-width="0.8">6</text><text transform="matrix(1.02,0,0,1,626.66,0)" x="0" y="317.13" font-size="51" fill="#e60012" stroke="#e60012" stroke-width="0.8">6</text><text transform="matrix(1.02,0,0,1,723.81,0)" x="0" y="318.64" font-size="51" fill="#231815" stroke="#231815" stroke-width="0.8">6</text><text transform="matrix(1.02,0,0,1,754.15,0)" x="0" y="318.64" font-size="51" fill="#231815" stroke="#231815" stroke-width="0.8">3</text><text transform="matrix(1.02,0,0,1,784.11,0)" x="0" y="318.64" font-size="51" fill="#231815" stroke="#231815" stroke-width="0.8">0</text><text transform="matrix(1.02,0,0,1,814.19,0)" x="0" y="318.64" font-size="51" fill="#231815" stroke="#231815" stroke-width="0.8">0</text><text transform="matrix(1.02,0,0,1,160.96,0)" x="0" y="460.66" font-size="51" fill="#00a0e9" stroke="#00a0e9" stroke-width="0.8">6</text><text transform="matrix(1.02,0,0,1,191.40,0)" x="0" y="460.66" font-size="51" fill="#00a0e9" stroke="#00a0e9" stroke-width="0.8">8</text><text transform="matrix(1.02,0,0,1,289.30,0)" x="0" y="464.58" font-size="51" fill="#009944" stroke="#009944" stroke-width="0.8">0</text><circle cx="326.12" cy="461.08" r="3.55" fill="#009944"/><text transform="matrix(1.02,0,0,1,333.94,0)" x="0" y="464.58" font-size="51" fill="#009944" stroke="#009944" stroke-width="0.8">8</text><text transform="matrix(1.02,0,0,1,362.80,0)" x="0" y="464.58" font-size="51" fill="#009944" stroke="#009944" stroke-width="0.8">8</text><text transform="matrix(1.02,0,0,1,554.17,0)" x="0" y="463.06" font-size="51" fill="#e60012" stroke="#e60012" stroke-width="0.8">5</text><circle cx="590.77" cy="459.56" r="3.55" fill="#e60012"/><text transform="matrix(1.02,0,0,1,598.49,0)" x="0" y="463.06" font-size="51" fill="#e60012" stroke="#e60012" stroke-width="0.8">9</text><text transform="matrix(1.02,0,0,1,627.06,0)" x="0" y="463.06" font-size="51" fill="#e60012" stroke="#e60012" stroke-width="0.8">2</text><text transform="matrix(1.02,0,0,1,725.36,0)" x="0" y="464.28" font-size="51" fill="#231815" stroke="#231815" stroke-width="0.8">5</text><text transform="matrix(1.02,0,0,1,754.90,0)" x="0" y="464.28" font-size="51" fill="#231815" stroke="#231815" stroke-width="0.8">6</text><text transform="matrix(1.02,0,0,1,784.70,0)" x="0" y="464.28" font-size="51" fill="#231815" stroke="#231815" stroke-width="0.8">0</text><text transform="matrix(1.02,0,0,1,814.37,0)" x="0" y="464.28" font-size="51" fill="#231815" stroke="#231815" stroke-width="0.8">0</text><text transform="matrix(1.02,0,0,1,119.21,0)" x="0" y="606.74" font-size="51" fill="#00a0e9" stroke="#00a0e9" stroke-width="0.8">5</text><text transform="matrix(1.02,0,0,1,147.86,0)" x="0" y="606.74" font-size="51" fill="#00a0e9" stroke="#00a0e9" stroke-width="0.8">9</text><circle cx="184.52" cy="603.24" r="3.55" fill="#00a0e9"/><text transform="matrix(1.02,0,0,1,192.32,0)" x="0" y="606.74" font-size="51" fill="#00a0e9" stroke="#00a0e9" stroke-width="0.8">5</text><text transform="matrix(1.02,0,0,1,294.64,0)" x="0" y="610.32" font-size="51" fill="#009944" stroke="#009944" stroke-width="0.8">0</text><circle cx="330.46" cy="606.82" r="3.55" fill="#009944"/><text transform="matrix(1.02,0,0,1,337.42,0)" x="0" y="610.32" font-size="51" fill="#009944" stroke="#009944" stroke-width="0.8">7</text><text transform="matrix(1.02,0,0,1,364.99,0)" x="0" y="610.32" font-size="51" fill="#009944" stroke="#009944" stroke-width="0.8">7</text><text transform="matrix(1.02,0,0,1,562.19,0)" x="0" y="608.99" font-size="51" fill="#e60012" stroke="#e60012" stroke-width="0.8">5</text><circle cx="599.18" cy="605.49" r="3.55" fill="#e60012"/><text transform="matrix(1.02,0,0,1,626.71,0)" x="0" y="608.99" font-size="51" fill="#e60012" stroke="#e60012" stroke-width="0.8">8</text><path d="M621.61,572.99L621.61,608.99L616.71,608.99L616.71,578.59L607.81,583.89L607.81,579.29L616.71,572.99Z" fill="#e60012"/><text transform="matrix(1.02,0,0,1,724.07,0)" x="0" y="609.92" font-size="51" fill="#231815" stroke="#231815" stroke-width="0.8">4</text><text transform="matrix(1.02,0,0,1,754.02,0)" x="0" y="609.92" font-size="51" fill="#231815" stroke="#231815" stroke-width="0.8">9</text><text transform="matrix(1.02,0,0,1,784.11,0)" x="0" y="609.92" font-size="51" fill="#231815" stroke="#231815" stroke-width="0.8">0</text><text transform="matrix(1.02,0,0,1,814.19,0)" x="0" y="609.92" font-size="51" fill="#231815" stroke="#231815" stroke-width="0.8">0</text><text transform="matrix(1.02,0,0,1,171.25,0)" x="0" y="752.82" font-size="51" fill="#00a0e9" stroke="#00a0e9" stroke-width="0.8">5</text><path d="M219.26,716.82L219.26,752.82L214.36,752.82L214.36,722.42L205.46,727.72L205.46,723.12L214.36,716.82Z" fill="#00a0e9"/><text transform="matrix(1.02,0,0,1,289.21,0)" x="0" y="756.06" font-size="51" fill="#009944" stroke="#009944" stroke-width="0.8">0</text><circle cx="326.06" cy="752.56" r="3.55" fill="#009944"/><text transform="matrix(1.02,0,0,1,333.90,0)" x="0" y="756.06" font-size="51" fill="#009944" stroke="#009944" stroke-width="0.8">6</text><text transform="matrix(1.02,0,0,1,362.79,0)" x="0" y="756.06" font-size="51" fill="#009944" stroke="#009944" stroke-width="0.8">6</text><text transform="matrix(1.02,0,0,1,550.64,0)" x="0" y="754.92" font-size="51" fill="#e60012" stroke="#e60012" stroke-width="0.8">4</text><circle cx="588.06" cy="751.42" r="3.55" fill="#e60012"/><text transform="matrix(1.02,0,0,1,596.86,0)" x="0" y="754.92" font-size="51" fill="#e60012" stroke="#e60012" stroke-width="0.8">4</text><text transform="matrix(1.02,0,0,1,626.65,0)" x="0" y="754.92" font-size="51" fill="#e60012" stroke="#e60012" stroke-width="0.8">4</text><text transform="matrix(1.02,0,0,1,724.07,0)" x="0" y="755.56" font-size="51" fill="#231815" stroke="#231815" stroke-width="0.8">4</text><text transform="matrix(1.02,0,0,1,754.02,0)" x="0" y="755.56" font-size="51" fill="#231815" stroke="#231815" stroke-width="0.8">2</text><text transform="matrix(1.02,0,0,1,784.11,0)" x="0" y="755.56" font-size="51" fill="#231815" stroke="#231815" stroke-width="0.8">0</text><text transform="matrix(1.02,0,0,1,814.19,0)" x="0" y="755.56" font-size="51" fill="#231815" stroke="#231815" stroke-width="0.8">0</text><text transform="matrix(1.02,0,0,1,119.34,0)" x="0" y="898.90" font-size="51" fill="#00a0e9" stroke="#00a0e9" stroke-width="0.8">4</text><text transform="matrix(1.02,0,0,1,147.86,0)" x="0" y="898.90" font-size="51" fill="#00a0e9" stroke="#00a0e9" stroke-width="0.8">2</text><circle cx="184.52" cy="895.40" r="3.55" fill="#00a0e9"/><text transform="matrix(1.02,0,0,1,192.32,0)" x="0" y="898.90" font-size="51" fill="#00a0e9" stroke="#00a0e9" stroke-width="0.8">5</text><text transform="matrix(1.02,0,0,1,289.38,0)" x="0" y="901.80" font-size="51" fill="#009944" stroke="#009944" stroke-width="0.8">0</text><circle cx="326.34" cy="898.30" r="3.55" fill="#009944"/><text transform="matrix(1.02,0,0,1,334.42,0)" x="0" y="901.80" font-size="51" fill="#009944" stroke="#009944" stroke-width="0.8">5</text><text transform="matrix(1.02,0,0,1,363.45,0)" x="0" y="901.80" font-size="51" fill="#009944" stroke="#009944" stroke-width="0.8">5</text><text transform="matrix(1.02,0,0,1,555.44,0)" x="0" y="900.85" font-size="51" fill="#e60012" stroke="#e60012" stroke-width="0.8">3</text><circle cx="591.61" cy="897.35" r="3.55" fill="#e60012"/><text transform="matrix(1.02,0,0,1,599.04,0)" x="0" y="900.85" font-size="51" fill="#e60012" stroke="#e60012" stroke-width="0.8">7</text><text transform="matrix(1.02,0,0,1,627.22,0)" x="0" y="900.85" font-size="51" fill="#e60012" stroke="#e60012" stroke-width="0.8">5</text><text transform="matrix(1.02,0,0,1,725.49,0)" x="0" y="901.20" font-size="51" fill="#231815" stroke="#231815" stroke-width="0.8">3</text><text transform="matrix(1.02,0,0,1,755.03,0)" x="0" y="901.20" font-size="51" fill="#231815" stroke="#231815" stroke-width="0.8">5</text><text transform="matrix(1.02,0,0,1,784.70,0)" x="0" y="901.20" font-size="51" fill="#231815" stroke="#231815" stroke-width="0.8">0</text><text transform="matrix(1.02,0,0,1,814.37,0)" x="0" y="901.20" font-size="51" fill="#231815" stroke="#231815" stroke-width="0.8">0</text><text transform="matrix(1.02,0,0,1,161.22,0)" x="0" y="1044.98" font-size="51" fill="#00a0e9" stroke="#00a0e9" stroke-width="0.8">3</text><text transform="matrix(1.02,0,0,1,191.66,0)" x="0" y="1044.98" font-size="51" fill="#00a0e9" stroke="#00a0e9" stroke-width="0.8">4</text><text transform="matrix(1.02,0,0,1,287.98,0)" x="0" y="1047.54" font-size="51" fill="#009944" stroke="#009944" stroke-width="0.8">0</text><circle cx="325.30" cy="1044.04" r="3.55" fill="#009944"/><text transform="matrix(1.02,0,0,1,333.88,0)" x="0" y="1047.54" font-size="51" fill="#009944" stroke="#009944" stroke-width="0.8">4</text><text transform="matrix(1.02,0,0,1,363.38,0)" x="0" y="1047.54" font-size="51" fill="#009944" stroke="#009944" stroke-width="0.8">4</text><text transform="matrix(1.02,0,0,1,554.17,0)" x="0" y="1046.78" font-size="51" fill="#e60012" stroke="#e60012" stroke-width="0.8">2</text><circle cx="590.77" cy="1043.28" r="3.55" fill="#e60012"/><text transform="matrix(1.02,0,0,1,598.49,0)" x="0" y="1046.78" font-size="51" fill="#e60012" stroke="#e60012" stroke-width="0.8">9</text><text transform="matrix(1.02,0,0,1,626.93,0)" x="0" y="1046.78" font-size="51" fill="#e60012" stroke="#e60012" stroke-width="0.8">6</text><text transform="matrix(1.02,0,0,1,726.25,0)" x="0" y="1046.84" font-size="51" fill="#231815" stroke="#231815" stroke-width="0.8">2</text><text transform="matrix(1.02,0,0,1,755.53,0)" x="0" y="1046.84" font-size="51" fill="#231815" stroke="#231815" stroke-width="0.8">8</text><text transform="matrix(1.02,0,0,1,785.07,0)" x="0" y="1046.84" font-size="51" fill="#231815" stroke="#231815" stroke-width="0.8">0</text><text transform="matrix(1.02,0,0,1,814.48,0)" x="0" y="1046.84" font-size="51" fill="#231815" stroke="#231815" stroke-width="0.8">0</text><text transform="matrix(1.02,0,0,1,120.61,0)" x="0" y="1191.06" font-size="51" fill="#00a0e9" stroke="#00a0e9" stroke-width="0.8">2</text><text transform="matrix(1.02,0,0,1,148.79,0)" x="0" y="1191.06" font-size="51" fill="#00a0e9" stroke="#00a0e9" stroke-width="0.8">5</text><circle cx="185.09" cy="1187.56" r="3.55" fill="#00a0e9"/><text transform="matrix(1.02,0,0,1,192.52,0)" x="0" y="1191.06" font-size="51" fill="#00a0e9" stroke="#00a0e9" stroke-width="0.8">5</text><text transform="matrix(1.02,0,0,1,288.78,0)" x="0" y="1193.28" font-size="51" fill="#009944" stroke="#009944" stroke-width="0.8">0</text><circle cx="325.74" cy="1189.78" r="3.55" fill="#009944"/><text transform="matrix(1.02,0,0,1,333.95,0)" x="0" y="1193.28" font-size="51" fill="#009944" stroke="#009944" stroke-width="0.8">3</text><text transform="matrix(1.02,0,0,1,362.98,0)" x="0" y="1193.28" font-size="51" fill="#009944" stroke="#009944" stroke-width="0.8">3</text><text transform="matrix(1.02,0,0,1,556.18,0)" x="0" y="1192.71" font-size="51" fill="#e60012" stroke="#e60012" stroke-width="0.8">2</text><circle cx="592.25" cy="1189.21" r="3.55" fill="#e60012"/><text transform="matrix(1.02,0,0,1,599.46,0)" x="0" y="1192.71" font-size="51" fill="#e60012" stroke="#e60012" stroke-width="0.8">2</text><text transform="matrix(1.02,0,0,1,627.35,0)" x="0" y="1192.71" font-size="51" fill="#e60012" stroke="#e60012" stroke-width="0.8">2</text><text transform="matrix(1.02,0,0,1,733.72,0)" x="0" y="1192.48" font-size="51" fill="#231815" stroke="#231815" stroke-width="0.8">2</text><text transform="matrix(1.02,0,0,1,786.13,0)" x="0" y="1192.48" font-size="51" fill="#231815" stroke="#231815" stroke-width="0.8">0</text><text transform="matrix(1.02,0,0,1,814.81,0)" x="0" y="1192.48" font-size="51" fill="#231815" stroke="#231815" stroke-width="0.8">0</text><path d="M781.26,1156.48L781.26,1192.48L776.36,1192.48L776.36,1162.08L767.46,1167.38L767.46,1162.78L776.36,1156.48Z" fill="#231815"/><text transform="matrix(1.02,0,0,1,192.08,0)" x="0" y="1337.14" font-size="51" fill="#00a0e9" stroke="#00a0e9" stroke-width="0.8">7</text><path d="M186.74,1301.14L186.74,1337.14L181.84,1337.14L181.84,1306.74L172.94,1312.04L172.94,1307.44L181.84,1301.14Z" fill="#00a0e9"/><text transform="matrix(1.02,0,0,1,290.70,0)" x="0" y="1339.02" font-size="51" fill="#009944" stroke="#009944" stroke-width="0.8">0</text><circle cx="327.16" cy="1335.52" r="3.55" fill="#009944"/><text transform="matrix(1.02,0,0,1,334.75,0)" x="0" y="1339.02" font-size="51" fill="#009944" stroke="#009944" stroke-width="0.8">2</text><text transform="matrix(1.02,0,0,1,363.13,0)" x="0" y="1339.02" font-size="51" fill="#009944" stroke="#009944" stroke-width="0.8">2</text><circle cx="588.52" cy="1335.14" r="3.55" fill="#e60012"/><text transform="matrix(1.02,0,0,1,597.17,0)" x="0" y="1338.64" font-size="51" fill="#e60012" stroke="#e60012" stroke-width="0.8">4</text><text transform="matrix(1.02,0,0,1,626.48,0)" x="0" y="1338.64" font-size="51" fill="#e60012" stroke="#e60012" stroke-width="0.8">8</text><path d="M575.54,1302.64L575.54,1338.64L570.64,1338.64L570.64,1308.24L561.74,1313.54L561.74,1308.94L570.64,1302.64Z" fill="#e60012"/><text transform="matrix(1.02,0,0,1,752.72,0)" x="0" y="1338.12" font-size="51" fill="#231815" stroke="#231815" stroke-width="0.8">4</text><text transform="matrix(1.02,0,0,1,783.26,0)" x="0" y="1338.12" font-size="51" fill="#231815" stroke="#231815" stroke-width="0.8">0</text><text transform="matrix(1.02,0,0,1,813.93,0)" x="0" y="1338.12" font-size="51" fill="#231815" stroke="#231815" stroke-width="0.8">0</text><path d="M745.90,1302.12L745.90,1338.12L741.00,1338.12L741.00,1307.72L732.10,1313.02L732.10,1308.42L741.00,1302.12Z" fill="#231815"/><text transform="matrix(1.02,0,0,1,148.10,0)" x="0" y="1483.22" font-size="51" fill="#00a0e9" stroke="#00a0e9" stroke-width="0.8">8</text><circle cx="184.75" cy="1479.72" r="3.55" fill="#00a0e9"/><text transform="matrix(1.02,0,0,1,192.40,0)" x="0" y="1483.22" font-size="51" fill="#00a0e9" stroke="#00a0e9" stroke-width="0.8">5</text><text transform="matrix(1.02,0,0,1,305.79,0)" x="0" y="1484.76" font-size="51" fill="#009944" stroke="#009944" stroke-width="0.8">0</text><circle cx="343.12" cy="1481.26" r="3.55" fill="#009944"/><path d="M365.79,1448.76L365.79,1484.76L360.89,1484.76L360.89,1454.36L351.99,1459.66L351.99,1455.06L360.89,1448.76ZM388.18,1448.76L388.18,1484.76L383.28,1484.76L383.28,1454.36L374.38,1459.66L374.38,1455.06L383.28,1448.76Z" fill="#009944"/><text transform="matrix(1.02,0,0,1,554.78,0)" x="0" y="1484.57" font-size="51" fill="#e60012" stroke="#e60012" stroke-width="0.8">0</text><circle cx="591.22" cy="1481.07" r="3.55" fill="#e60012"/><text transform="matrix(1.02,0,0,1,598.79,0)" x="0" y="1484.57" font-size="51" fill="#e60012" stroke="#e60012" stroke-width="0.8">7</text><text transform="matrix(1.02,0,0,1,627.28,0)" x="0" y="1484.57" font-size="51" fill="#e60012" stroke="#e60012" stroke-width="0.8">4</text><text transform="matrix(1.02,0,0,1,755.99,0)" x="0" y="1483.76" font-size="51" fill="#231815" stroke="#231815" stroke-width="0.8">7</text><text transform="matrix(1.02,0,0,1,785.26,0)" x="0" y="1483.76" font-size="51" fill="#231815" stroke="#231815" stroke-width="0.8">0</text><text transform="matrix(1.02,0,0,1,814.54,0)" x="0" y="1483.76" font-size="51" fill="#231815" stroke="#231815" stroke-width="0.8">0</text><text transform="matrix(1.02,0,0,1,192.21,0)" x="0" y="1629.30" font-size="51" fill="#00a0e9" stroke="#00a0e9" stroke-width="0.8">0</text><text transform="matrix(1.02,0,0,1,363.51,0)" x="0" y="1630.50" font-size="51" fill="#009944" stroke="#009944" stroke-width="0.8">0</text><text transform="matrix(1.02,0,0,1,628.26,0)" x="0" y="1630.50" font-size="51" fill="#e60012" stroke="#e60012" stroke-width="0.8">0</text><text transform="matrix(1.02,0,0,1,815.46,0)" x="0" y="1629.40" font-size="51" fill="#231815" stroke="#231815" stroke-width="0.8">0</text><text transform="matrix(1.02,0,0,1,848.41,0)" x="0" y="1675.20" font-size="51" fill="#231815" stroke="#231815" stroke-width="0.8">0</text><text transform="matrix(1.02,0,0,1,985.42,0)" x="0" y="1675.20" font-size="51" fill="#231815" stroke="#231815" stroke-width="0.8">2</text><circle cx="1021.05" cy="1671.70" r="3.55" fill="#231815"/><text transform="matrix(1.02,0,0,1,1027.80,0)" x="0" y="1675.20" font-size="51" fill="#231815" stroke="#231815" stroke-width="0.8">2</text><text transform="matrix(1.02,0,0,1,1137.28,0)" x="0" y="1675.20" font-size="51" fill="#231815" stroke="#231815" stroke-width="0.8">4</text><circle cx="1174.05" cy="1671.70" r="3.55" fill="#231815"/><text transform="matrix(1.02,0,0,1,1182.21,0)" x="0" y="1675.20" font-size="51" fill="#231815" stroke="#231815" stroke-width="0.8">4</text><text transform="matrix(1.02,0,0,1,1289.02,0)" x="0" y="1675.20" font-size="51" fill="#231815" stroke="#231815" stroke-width="0.8">6</text><circle cx="1326.05" cy="1671.70" r="3.55" fill="#231815"/><text transform="matrix(1.02,0,0,1,1333.95,0)" x="0" y="1675.20" font-size="51" fill="#231815" stroke="#231815" stroke-width="0.8">6</text><text transform="matrix(1.02,0,0,1,1441.21,0)" x="0" y="1675.20" font-size="51" fill="#231815" stroke="#231815" stroke-width="0.8">8</text><circle cx="1477.70" cy="1671.70" r="3.55" fill="#231815"/><text transform="matrix(1.02,0,0,1,1485.06,0)" x="0" y="1675.20" font-size="51" fill="#231815" stroke="#231815" stroke-width="0.8">8</text><path d="M1615.67,1639.20L1615.67,1675.20L1610.77,1675.20L1610.77,1644.80L1601.87,1650.10L1601.87,1645.50L1610.77,1639.20ZM1638.83,1639.20L1638.83,1675.20L1633.93,1675.20L1633.93,1644.80L1625.03,1650.10L1625.03,1645.50L1633.93,1639.20Z" fill="#231815"/><text transform="matrix(1.02,0,0,1,1750.35,0)" x="0" y="1675.20" font-size="51" fill="#231815" stroke="#231815" stroke-width="0.8">3</text><circle cx="1787.33" cy="1671.70" r="3.55" fill="#231815"/><text transform="matrix(1.02,0,0,1,1795.57,0)" x="0" y="1675.20" font-size="51" fill="#231815" stroke="#231815" stroke-width="0.8">2</text><path d="M1744.85,1639.20L1744.85,1675.20L1739.95,1675.20L1739.95,1644.80L1731.05,1650.10L1731.05,1645.50L1739.95,1639.20Z" fill="#231815"/><text transform="matrix(1.02,0,0,1,1903.05,0)" x="0" y="1675.20" font-size="51" fill="#231815" stroke="#231815" stroke-width="0.8">5</text><circle cx="1940.38" cy="1671.70" r="3.55" fill="#231815"/><text transform="matrix(1.02,0,0,1,1948.97,0)" x="0" y="1675.20" font-size="51" fill="#231815" stroke="#231815" stroke-width="0.8">4</text><path d="M1897.42,1639.20L1897.42,1675.20L1892.52,1675.20L1892.52,1644.80L1883.62,1650.10L1883.62,1645.50L1892.52,1639.20Z" fill="#231815"/><text transform="matrix(1.02,0,0,1,2052.82,0)" x="0" y="1675.20" font-size="51" fill="#231815" stroke="#231815" stroke-width="0.8">7</text><circle cx="2088.91" cy="1671.70" r="3.55" fill="#231815"/><text transform="matrix(1.02,0,0,1,2096.01,0)" x="0" y="1675.20" font-size="51" fill="#231815" stroke="#231815" stroke-width="0.8">6</text><path d="M2048.64,1639.20L2048.64,1675.20L2043.74,1675.20L2043.74,1644.80L2034.84,1650.10L2034.84,1645.50L2043.74,1639.20Z" fill="#231815"/><text transform="matrix(1.02,0,0,1,2206.04,0)" x="0" y="1675.20" font-size="51" fill="#231815" stroke="#231815" stroke-width="0.8">9</text><circle cx="2243.02" cy="1671.70" r="3.55" fill="#231815"/><text transform="matrix(1.02,0,0,1,2251.01,0)" x="0" y="1675.20" font-size="51" fill="#231815" stroke="#231815" stroke-width="0.8">8</text><path d="M2200.82,1639.20L2200.82,1675.20L2195.92,1675.20L2195.92,1644.80L2187.02,1650.10L2187.02,1645.50L2195.92,1639.20Z" fill="#231815"/><text transform="matrix(1.02,0,0,1,2360.85,0)" x="0" y="1675.20" font-size="51" fill="#231815" stroke="#231815" stroke-width="0.8">2</text><text transform="matrix(1.02,0,0,1,2389.37,0)" x="0" y="1675.20" font-size="51" fill="#231815" stroke="#231815" stroke-width="0.8">2</text><text transform="matrix(0.9976,0,0,1,2456.53,0)" x="0" y="1675.40" font-size="51" fill="#231815" stroke="#231815" stroke-width="0.8">T[mN</text><text transform="matrix(1.0196,0,0,1,2593.12,0)" x="0" y="1675.40" font-size="51" fill="#231815" stroke="#231815" stroke-width="0.8">m]</text><text transform="matrix(0.9041,0,0,1,38.20,0)" x="0" y="58.20" font-size="47" fill="#00a0e9" stroke="#00a0e9" stroke-width="1.15">Efficiency</text><text transform="matrix(0.8900,0,0,1,249.71,0)" x="0" y="58.20" font-size="47" fill="#009944" stroke="#009944" stroke-width="1.15">Current</text><text transform="matrix(0.8342,0,0,1,425.84,0)" x="0" y="58.20" font-size="47" fill="#e60012" stroke="#e60012" stroke-width="1.15">Output Power</text><text transform="matrix(0.8847,0,0,1,740.53,0)" x="0" y="58.20" font-size="47" fill="#231815" stroke="#231815" stroke-width="1.15">Speed</text><text transform="matrix(0.7758,0,0,1,185.72,0)" x="0" y="113.30" font-size="47" fill="#00a0e9" stroke="#00a0e9" stroke-width="1.15">%</text><text transform="matrix(0.8317,0,0,1,362.80,0)" x="0" y="113.00" font-size="47" fill="#009944" stroke="#009944" stroke-width="1.15">A</text><text transform="matrix(0.7965,0,0,1,629.81,0)" x="0" y="112.50" font-size="47" fill="#e60012" stroke="#e60012" stroke-width="1.15">W</text><text transform="matrix(0.9142,0,0,1,765.41,0)" x="0" y="112.80" font-size="47" fill="#231815" stroke="#231815" stroke-width="1.15">r/min</text><text transform="matrix(0.9436,0,0,1,2151.56,0)" x="0" y="131.50" font-size="50.5" fill="#231815" stroke="#231815" stroke-width="0.8">VDC</text><text transform="matrix(1.0059,0,0,1,2289.96,0)" x="0" y="131.50" font-size="50.5" fill="#231815" stroke="#231815" stroke-width="0.8">24 V</text><circle cx="2588.2" cy="1672.4" r="3.9" fill="#231815"/><circle cx="2271.4" cy="104.3" r="3.5" fill="#231815"/><circle cx="2271.4" cy="123.9" r="3.5" fill="#231815"/>
</svg></body></html>
